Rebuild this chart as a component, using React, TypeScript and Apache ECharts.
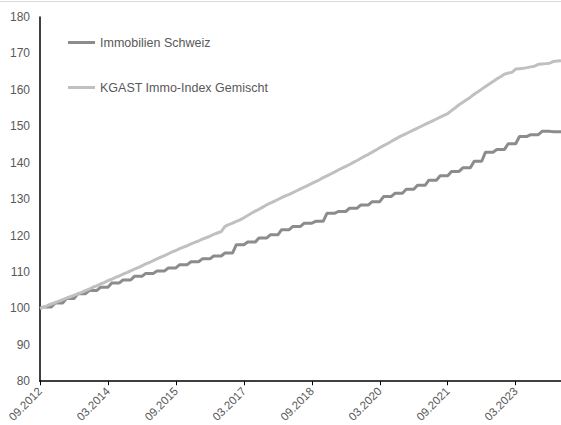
import React, { useEffect, useRef } from "react";
import * as echarts from "echarts";

// Monthly observations, first month 09.2012, last month 03.2024
const START_YEAR = 2012;
const START_MONTH = 9;

const seriesNames = ["Immobilien Schweiz", "KGAST Immo-Index Gemischt"];

// Immobilien Schweiz (monthly, stepped quarterly)
const immobilienSchweiz = [
  100.0,
  100.4, 100.4, 100.4, 101.5, 101.5, 101.5, 102.7, 102.7, 102.7, 104.0, 104.0, 104.0,
  104.9, 104.9, 104.9, 105.8, 105.8, 105.8, 107.0, 107.0, 107.0, 107.8, 107.8, 107.8,
  108.8, 108.8, 108.8, 109.6, 109.6, 109.6, 110.3, 110.3, 110.3, 111.1, 111.1, 111.1,
  112.0, 112.0, 112.0, 112.8, 112.8, 112.8, 113.6, 113.6, 113.6, 114.4, 114.4, 114.4,
  115.2, 115.2, 115.2, 117.5, 117.5, 117.5, 118.2, 118.2, 118.2, 119.3, 119.3, 119.3,
  120.2, 120.2, 120.2, 121.6, 121.6, 121.6, 122.5, 122.5, 122.5, 123.4, 123.4, 123.4,
  123.9, 123.9, 123.9, 126.1, 126.1, 126.1, 126.6, 126.6, 126.6, 127.5, 127.5, 127.5,
  128.4, 128.4, 128.4, 129.3, 129.3, 129.3, 130.7, 130.7, 130.7, 131.6, 131.6, 131.6,
  132.7, 132.7, 132.7, 133.8, 133.8, 133.8, 135.2, 135.2, 135.2, 136.4, 136.4, 136.4,
  137.6, 137.6, 137.6, 138.6, 138.6, 138.6, 140.4, 140.4, 140.4, 142.9, 142.9, 142.9,
  143.6, 143.6, 143.6, 145.2, 145.2, 145.2, 147.2, 147.2, 147.2, 147.7, 147.7, 147.7,
  148.6, 148.6, 148.6, 148.5, 148.5, 148.5,
];

// KGAST Immo-Index Gemischt (monthly)
const kgastGemischt = [
  100.0, 100.3, 100.8, 101.2, 101.6, 102.0, 102.4, 102.8, 103.2, 103.6, 104.0, 104.4,
  104.9, 105.3, 105.8, 106.2, 106.7, 107.1, 107.6, 108.0, 108.5, 108.9, 109.4, 109.8,
  110.3, 110.8, 111.2, 111.7, 112.2, 112.6, 113.1, 113.6, 114.1, 114.5, 115.0, 115.5,
  115.9, 116.4, 116.8, 117.2, 117.7, 118.1, 118.5, 119.0, 119.4, 119.8, 120.3, 120.7,
  121.1, 122.5, 123.0, 123.4, 123.9, 124.3, 124.9, 125.5, 126.1, 126.7, 127.2, 127.8,
  128.4, 128.9, 129.4, 129.9, 130.4, 130.9, 131.3, 131.8, 132.3, 132.8, 133.3, 133.8,
  134.3, 134.8, 135.3, 135.9, 136.4, 136.9, 137.4, 138.0, 138.5, 139.0, 139.5, 140.1,
  140.6, 141.2, 141.8, 142.3, 142.9, 143.5, 144.1, 144.7, 145.2, 145.8, 146.4, 147.0,
  147.5, 148.0, 148.5, 149.0, 149.5, 150.0, 150.5, 151.0, 151.5, 152.0, 152.5, 153.0,
  153.5, 154.3, 155.1, 155.9, 156.6, 157.3, 158.0, 158.8, 159.5, 160.2, 160.9, 161.6,
  162.3, 163.0, 163.6, 164.3, 164.6, 164.8, 165.7, 165.8, 165.9, 166.1, 166.3, 166.5,
  167.0, 167.1, 167.2, 167.3, 167.8, 167.9, 168.0,
];

const yTicks = [80, 90, 100, 110, 120, 130, 140, 150, 160, 170, 180];

const months: string[] = [];
for (let i = 0; i < kgastGemischt.length; i++) {
  const t = START_MONTH - 1 + i;
  const y = START_YEAR + Math.floor(t / 12);
  const m = (t % 12) + 1;
  months.push(String(m).padStart(2, "0") + "." + y);
}

const FONT = "'Liberation Sans', Arial, sans-serif";
const TEXT = "#595959";
const DARK = "#8c8c8c";
const LIGHT = "#c0c0c0";

export default function App() {
  const ref = useRef<HTMLDivElement>(null);
  useEffect(() => {
    if (!ref.current) return;
    const chart = echarts.init(ref.current, undefined, { renderer: "svg" });
    chart.setOption({
      animation: false,
      backgroundColor: "#ffffff",
      textStyle: { fontFamily: FONT },
      grid: { left: 40, top: 17, right: 0, bottom: 41, containLabel: false },
      graphic: [
        {
          type: "line",
          shape: { x1: 0, y1: 1.5, x2: 561, y2: 1.5 },
          style: { stroke: "#d9d9d9", lineWidth: 1 },
          silent: true,
        },
      ],
      legend: {
        orient: "vertical",
        left: 68,
        top: 36,
        padding: 0,
        itemWidth: 27,
        itemHeight: 3,
        itemGap: 32,
        icon: "rect",
        data: seriesNames.map((n, i) => ({
          name: n,
          itemStyle: { color: i === 0 ? DARK : LIGHT },
        })),
        textStyle: { color: TEXT, fontSize: 12.5, fontFamily: FONT },
        selectedMode: false,
      },
      xAxis: {
        type: "category",
        data: months,
        boundaryGap: false,
        axisLine: { lineStyle: { color: "#000", width: 1.5 } },
        axisTick: { show: true, interval: 17, length: 4, lineStyle: { color: "#000" } },
        axisLabel: {
          interval: 17,
          rotate: 45,
          margin: 8,
          color: TEXT,
          fontSize: 11.5,
          fontFamily: FONT,
        },
        splitLine: { show: false },
      },
      yAxis: {
        type: "value",
        min: yTicks[0],
        max: yTicks[yTicks.length - 1],
        interval: 10,
        axisLine: { show: true, lineStyle: { color: "#000", width: 1.5 } },
        axisTick: { show: false },
        axisLabel: { margin: 10, color: TEXT, fontSize: 12, fontFamily: FONT },
        splitLine: { show: false },
      },
      series: [
        {
          name: seriesNames[0],
          type: "line",
          data: immobilienSchweiz,
          symbol: "none",
          lineStyle: { color: DARK, width: 3 },
          itemStyle: { color: DARK },
        },
        {
          name: seriesNames[1],
          type: "line",
          data: kgastGemischt,
          symbol: "none",
          lineStyle: { color: LIGHT, width: 3 },
          itemStyle: { color: LIGHT },
        },
      ],
    });
    return () => chart.dispose();
  }, []);
  return (
    <div
      ref={ref}
      style={{ position: "fixed", left: 0, top: 0, width: 561, height: 425 }}
    />
  );
}
